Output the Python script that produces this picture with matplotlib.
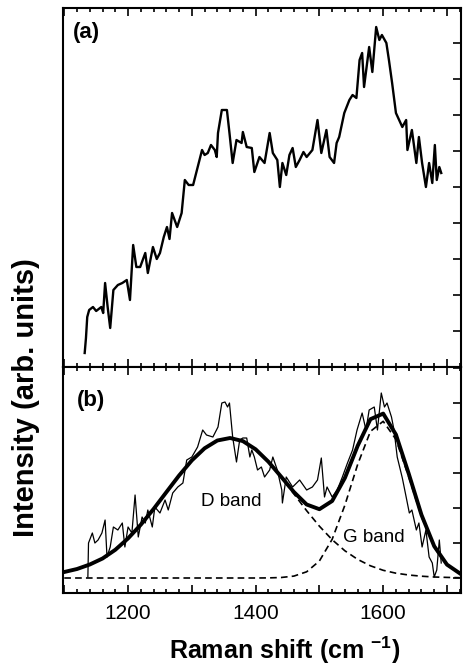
import matplotlib.pyplot as plt
from matplotlib.ticker import MultipleLocator, FuncFormatter

plt.rcParams['font.family'] = ['Liberation Sans', 'DejaVu Sans']
plt.rcParams['mathtext.fontset'] = 'custom'
plt.rcParams['mathtext.rm'] = 'Liberation Sans'
plt.rcParams['mathtext.bf'] = 'Liberation Sans:bold'

# (a) raw spectrum
shift_a = [1132, 1134, 1136, 1139, 1145, 1150, 1158, 1161, 1164, 1168, 1172, 1177,
           1184, 1191, 1198, 1203, 1208, 1213, 1219, 1227, 1231, 1239, 1245, 1250,
           1256, 1261, 1265, 1269, 1277, 1284, 1289, 1295, 1302, 1308, 1316, 1320,
           1325, 1330, 1336, 1339, 1341, 1347, 1355, 1359, 1364, 1370, 1378, 1380,
           1386, 1394, 1398, 1406, 1414, 1422, 1427, 1434, 1438, 1442, 1448, 1453,
           1458, 1463, 1469, 1475, 1480, 1489, 1497, 1503, 1511, 1516, 1523, 1527,
           1531, 1539, 1547, 1552, 1558, 1563, 1567, 1570, 1578, 1583, 1589, 1594,
           1598, 1605, 1609, 1614, 1620, 1630, 1636, 1638, 1645, 1652, 1656, 1661,
           1667, 1672, 1677, 1681, 1684, 1688, 1691]
inten_a = [14, 29, 50, 57, 60, 56, 60, 54, 84, 60, 39, 77,
           82, 84, 87, 67, 122, 100, 100, 114, 94, 120, 108, 114,
           130, 140, 128, 154, 140, 154, 187, 182, 182, 197, 217, 212,
           214, 222, 217, 210, 234, 257, 257, 234, 204, 227, 224, 235,
           220, 219, 195, 210, 204, 234, 214, 207, 180, 204, 192, 212,
           219, 200, 207, 215, 210, 217, 247, 214, 237, 210, 204, 224,
           230, 254, 267, 272, 269, 307, 314, 280, 320, 295, 340, 327,
           332, 324, 307, 284, 254, 240, 247, 217, 237, 204, 230, 204,
           180, 204, 184, 222, 187, 200, 194]

# (b) background-subtracted spectrum
shift_b = [1137, 1138, 1144, 1148, 1153, 1159, 1164, 1167, 1172, 1177, 1184, 1191,
           1195, 1200, 1206, 1211, 1216, 1222, 1227, 1231, 1238, 1242, 1250, 1258,
           1263, 1270, 1278, 1286, 1292, 1300, 1309, 1317, 1323, 1333, 1341, 1347,
           1352, 1356, 1359, 1364, 1370, 1375, 1380, 1386, 1391, 1394, 1398, 1403,
           1409, 1414, 1422, 1427, 1434, 1441, 1442, 1448, 1458, 1469, 1480, 1489,
           1497, 1503, 1508, 1512, 1520, 1528, 1536, 1544, 1552, 1559, 1567, 1573,
           1578, 1586, 1591, 1597, 1602, 1606, 1613, 1617, 1622, 1630, 1636, 1641,
           1645, 1652, 1656, 1661, 1667, 1672, 1677, 1680, 1684, 1688, 1691]
inten_b = [1, 35, 45, 35, 38, 45, 58, 21, 31, 51, 48, 55,
           31, 51, 45, 83, 41, 61, 55, 68, 51, 71, 65, 78,
           68, 85, 91, 95, 118, 121, 131, 148, 143, 141, 151, 175,
           176, 171, 175, 141, 116, 138, 140, 140, 121, 128, 121, 108,
           111, 101, 108, 121, 108, 88, 75, 101, 91, 98, 88, 91,
           98, 120, 81, 91, 81, 88, 101, 115, 128, 148, 165, 148,
           168, 171, 148, 185, 171, 175, 161, 148, 121, 100, 81, 65,
           68, 48, 55, 31, 48, 21, 15, 1, 8, 38, 15]

# fitted components
shift_fit = [1100, 1120, 1140, 1160, 1180, 1200, 1220, 1240, 1260, 1280, 1300,
             1320, 1340, 1360, 1380, 1400, 1420, 1440, 1460, 1480, 1500, 1520,
             1540, 1560, 1580, 1600, 1620, 1640, 1660, 1680, 1700, 1720]
d_band = [6, 9, 13.5, 19.5, 28.2, 39.6, 53.3, 69.0, 85.8, 102.5, 117.6,
          129.7, 137.5, 140, 136.9, 128.7, 116.2, 100.8, 84.1, 67.3, 51.8, 38.3,
          27.2, 18.6, 12.2, 7.7, 4.8, 3.0, 1.8, 1.0, 0.6, 0.3]
g_band = [0, 0, 0, 0, 0, 0, 0, 0, 0, 0, 0,
          0, 0, 0, 0, 0, 0.1, 0.5, 1.9, 6.2, 17.0, 38.7,
          72.9, 113.6, 146.6, 156.7, 138.6, 101.4, 61.4, 30.8, 12.8, 4.4]
fit_total = [d + g for d, g in zip(d_band, g_band)]

fig = plt.figure(figsize=(4.64, 6.66), dpi=100)
left, right = 63 / 464, 461 / 464
ax_a = fig.add_axes([left, 1 - 367 / 666, right - left, 359 / 666])
ax_b = fig.add_axes([left, 1 - 593 / 666, right - left, 226 / 666])

ax_a.plot(shift_a, inten_a, color='black', lw=1.7)
ax_b.plot(shift_b, inten_b, color='black', lw=0.9)
ax_b.plot(shift_fit, d_band, color='black', lw=1.2, ls=(0, (4, 2.5)))
ax_b.plot(shift_fit, g_band, color='black', lw=1.2, ls=(0, (4, 2.5)))
ax_b.plot(shift_fit, fit_total, color='black', lw=2.8)

ax_a.set_ylim(0, 359)
ax_b.set_ylim(-15, 211)

label_fmt = FuncFormatter(lambda v, p: f'{v:.0f}' if round(v) % 200 == 0 else '')
for ax, step in ((ax_a, 36), (ax_b, 35)):
    ax.set_xlim(1098, 1722)
    ax.xaxis.set_major_locator(MultipleLocator(100))
    ax.xaxis.set_minor_locator(MultipleLocator(20))
    ax.yaxis.set_major_locator(MultipleLocator(step))
    ax.tick_params(which='both', direction='in', top=True, bottom=True,
                   left=False, right=True, labelleft=False, width=1.2)
    ax.tick_params(which='major', length=6)
    ax.tick_params(which='minor', length=3)
    for sp in ax.spines.values():
        sp.set_linewidth(1.5)

ax_a.tick_params(labelbottom=False)
ax_b.xaxis.set_major_formatter(label_fmt)
ax_b.tick_params(axis='x', labelsize=15, pad=8)

ax_a.text(0.025, 0.96, '(a)', transform=ax_a.transAxes, fontsize=16,
          fontweight='bold', va='top', ha='left')
ax_b.text(0.035, 0.9, '(b)', transform=ax_b.transAxes, fontsize=16,
          fontweight='bold', va='top', ha='left')
ax_b.text(1362, 76, 'D band', fontsize=13.5, ha='center', va='center')
ax_b.text(1586, 41, 'G band', fontsize=13.5, ha='center', va='center')

fig.text(285 / 464, 1 - 650 / 666, 'Raman shift (cm $^{\\mathbf{-1}}$)',
         fontsize=18, fontweight='bold', ha='center', va='center')
fig.text(26 / 464, 1 - 398 / 666, 'Intensity (arb. units)', fontsize=21,
         fontweight='bold', rotation=90, ha='center', va='center')

fig.savefig('out.png', dpi=100)
